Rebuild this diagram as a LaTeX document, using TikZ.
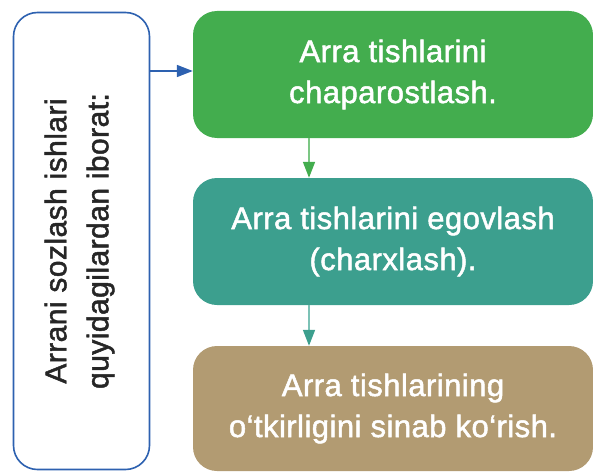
\documentclass[tikz,border=0pt]{standalone}
\usepackage{fontspec}
\setmainfont[FakeBold=1.6,LetterSpace=1.5]{Liberation Sans}
\usetikzlibrary{arrows.meta,positioning}

\definecolor{boxgreen}{HTML}{43AD4E}
\definecolor{boxteal}{HTML}{3C9F8E}
\definecolor{boxbrown}{HTML}{B29B72}
\definecolor{lineblue}{HTML}{2D61B0}
\definecolor{lightgreen}{HTML}{7CC784}
\definecolor{lightteal}{HTML}{7CC2B6}

\begin{document}
\begin{tikzpicture}[x=1pt,y=1pt,
    step box/.style={rectangle, rounded corners=24pt, minimum width=400pt,
      minimum height=127pt, text=white, align=center,
      font=\fontsize{31}{41}\selectfont},
    head box/.style={rectangle, rounded corners=24pt, draw=lineblue,
      line width=1.6pt, minimum width=136pt, minimum height=457pt},
    arr/.style={line width=1.6pt},
    tip/.style={-{Triangle[length=16pt,width=12pt,#1]}}]

  \useasboundingbox (0,0) rectangle (593,472);

  \node[head box] (head) at (81.5,231) {};
  \node[rotate=90, align=center, text=black!85, font=\fontsize{30}{42}\selectfont]
    (headtext) at ([xshift=-2pt]head.center) {Arrani sozlash ishlari\\quyidagilardan iborat:};

  \node[step box, fill=boxgreen] (sharp) at (393,397.5)
    {Arra tishlarini\\chaparostlash.};
  \node[step box, fill=boxteal] (file) at (393,230.5)
    {Arra tishlarini egovlash\\(charxlash).};
  \node[step box, fill=boxbrown, minimum height=125pt] (test) at (393,63.5)
    {Arra tishlarining\\o‘tkirligini sinab ko‘rish.};

  \draw[arr, lineblue, tip={}]
    (head.east |- 0,401) -- (sharp.west |- 0,401);
  \draw[arr, lightgreen, tip={color=boxgreen}]
    ([xshift=-84pt]sharp.south) -- ([xshift=-84pt]file.north);
  \draw[arr, lightteal, tip={color=boxteal}]
    ([xshift=-84pt]file.south) -- ([xshift=-84pt]test.north);
\end{tikzpicture}
\end{document}
